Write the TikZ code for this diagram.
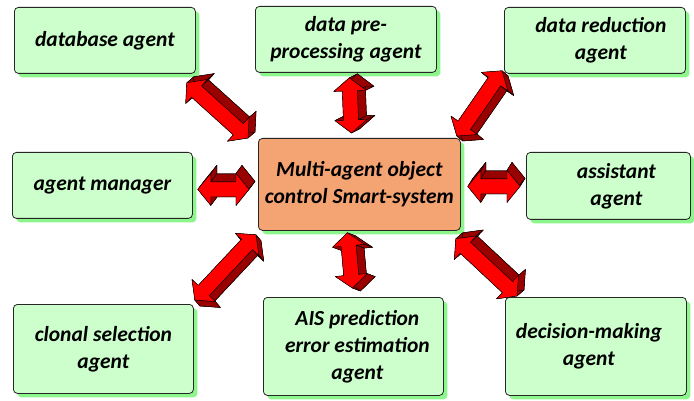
\documentclass[tikz,border=0pt]{standalone}
\usepackage{fontspec}
\setmainfont{Carlito}
\usetikzlibrary{calc,shadows}
\definecolor{boxgreen}{HTML}{CCFFCC}
\definecolor{shgreen}{HTML}{8CF58C}
\definecolor{centerfill}{HTML}{F4A372}
\definecolor{arrred}{HTML}{FF0000}
\definecolor{arrdark}{HTML}{990000}
\newcommand{\ahl}{13pt}
\newcommand{\ahw}{16pt}
\newcommand{\asw}{7.5pt}
\newcommand{\blockarrow}[3]{%
  \coordinate (A) at #1; \coordinate (B) at #2;
  \coordinate (Ah) at ($(A)!\ahl!(B)$);
  \coordinate (Bh) at ($(B)!\ahl!(A)$);
  \coordinate (f1) at (A);
  \coordinate (f2) at ($(Ah)!\ahw!90:(B)$);
  \coordinate (f3) at ($(Ah)!\asw!90:(B)$);
  \coordinate (f4) at ($(Bh)!\asw!-90:(A)$);
  \coordinate (f5) at ($(Bh)!\ahw!-90:(A)$);
  \coordinate (f6) at (B);
  \coordinate (f7) at ($(Bh)!\ahw!90:(A)$);
  \coordinate (f8) at ($(Bh)!\asw!90:(A)$);
  \coordinate (f9) at ($(Ah)!\asw!-90:(B)$);
  \coordinate (f10) at ($(Ah)!\ahw!-90:(B)$);
  \foreach \i in {1,...,10} {\coordinate (b\i) at ($(f\i)+#3$);}
  \draw[arrside] (b1)--(b2)--(b3)--(b4)--(b5)--(b6)--(b7)--(b8)--(b9)--(b10)--cycle;
  \foreach \i/\j in {1/2,2/3,3/4,4/5,5/6,6/7,7/8,8/9,9/10,10/1}
    {\draw[arrside] (f\i)--(f\j)--(b\j)--(b\i)--cycle;}
  \draw[arrfront] (f1)--(f2)--(f3)--(f4)--(f5)--(f6)--(f7)--(f8)--(f9)--(f10)--cycle;
}
\begin{document}
\begin{tikzpicture}[x=1pt,y=-1pt,
  agentbox/.style={draw=black!85, line width=0.8pt, rounded corners=4pt, fill=boxgreen,
    align=center, font=\bfseries\itshape\fontsize{21.5}{27}\selectfont, inner sep=0pt,
    anchor=north west,
    drop shadow={shadow xshift=4pt, shadow yshift=-4pt, fill=shgreen, opacity=1}},
  centerbox/.style={agentbox, fill=centerfill},
  arrside/.style={fill=arrdark, draw=black, line width=0.4pt, line join=round},
  arrfront/.style={fill=arrred, draw=black, line width=0.4pt, line join=round}]
\useasboundingbox (0,0) rectangle (694,401);
\fill[white] (0,0) rectangle (694,401);

\node[agentbox, minimum width=181pt, minimum height=66pt] (db) at (14,7) {database agent};
\node[agentbox, minimum width=181pt, minimum height=66pt] (prep) at (255,6) {data pre-\\processing agent};
\node[agentbox, minimum width=181pt, minimum height=66pt] (red) at (504,7) {\hspace*{12pt}data reduction\\\hspace*{12pt}agent};
\node[agentbox, minimum width=180pt, minimum height=66pt] (mgr) at (12,152) {agent manager};
\node[centerbox, minimum width=202pt, minimum height=92pt] (ctr) at (258,138) {Multi-agent object\\control Smart-system};
\node[agentbox, minimum width=164pt, minimum height=67pt] (asst) at (526,152) {\hspace*{16pt}assistant\\\hspace*{16pt}agent};
\node[agentbox, minimum width=180pt, minimum height=89pt] (cln) at (13,304) {clonal selection\\agent};
\node[agentbox, minimum width=180pt, minimum height=98pt] (ais) at (263,297) {\hspace*{8pt}AIS prediction\\\hspace*{8pt}error estimation\\\hspace*{8pt}agent};
\node[agentbox, minimum width=181pt, minimum height=98pt] (dec) at (505,297) {decision-making\hspace*{14pt}\\agent\hspace*{14pt}};

\blockarrow{($(db.south east)+(-9,9)$)}{($(ctr.north west)+(-10,0)$)}{(7,-6)}
\blockarrow{($(prep.south)+(3.5,5)$)}{($(ctr.north)+(-8,-5)$)}{(8,-4)}
\blockarrow{($(red.south west)+(-2,-3)$)}{($(ctr.north east)+(-4,-2)$)}{(6,5)}
\blockarrow{($(mgr.east)+(5,4)$)}{($(ctr.west)+(-9,5)$)}{(6,-8)}
\blockarrow{($(ctr.east)+(7,2)$)}{($(asst.west)+(-6,0.5)$)}{(5,-8)}
\blockarrow{($(cln.north east)+(1,-4)$)}{($(ctr.south west)+(-2,4)$)}{(5,6)}
\blockarrow{($(ctr.south)+(-12,2)$)}{($(ais.north)+(-1,-9)$)}{(8,3)}
\blockarrow{($(ctr.south east)+(-5,8)$)}{($(dec.north west)+(12,-1)$)}{(7,-6)}
\end{tikzpicture}
\end{document}
